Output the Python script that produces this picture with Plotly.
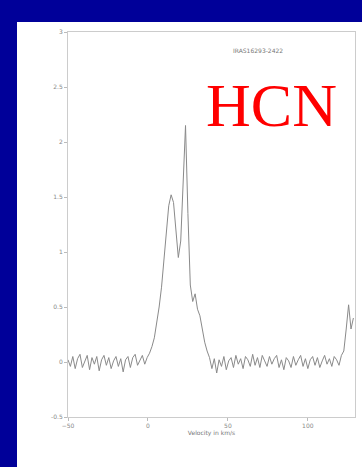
import plotly.graph_objects as go

# Spectrum header: first channel velocity and channel width (km/s)
v_start = -50.0
v_step = 1.5

# Antenna temperature per channel (K)
intensity = [
    0.02, -0.04, 0.05, -0.06, 0.03, 0.07, -0.05, 0.01, 0.06, -0.07,
    0.04, -0.02, 0.05, -0.08, 0.02, 0.06, -0.03, 0.04, -0.06, 0.01,
    0.05, -0.04, 0.03, -0.09, 0.02, 0.05, -0.05, 0.04, 0.07, -0.03,
    0.02, 0.06, -0.02, 0.04, 0.08, 0.14, 0.22, 0.35, 0.50, 0.68,
    0.92, 1.18, 1.42, 1.52, 1.45, 1.20, 0.95, 1.10, 1.70, 2.15,
    1.35, 0.70, 0.55, 0.62, 0.48, 0.42, 0.30, 0.18, 0.10, 0.04,
    -0.06, 0.03, -0.10, 0.02, -0.04, 0.05, -0.07, 0.01, 0.04, -0.05,
    0.06, -0.02, 0.03, -0.06, 0.05, 0.02, -0.04, 0.07, -0.03, 0.04,
    -0.05, 0.06, 0.01, -0.04, 0.05, -0.02, 0.03, 0.06, -0.05, 0.02,
    -0.07, 0.04, 0.01, -0.05, 0.05, -0.03, 0.02, 0.06, -0.04, 0.03,
    -0.06, 0.02, 0.05, -0.03, 0.04, -0.05, 0.01, 0.06, -0.02, 0.03,
    -0.04, 0.05, 0.02, -0.03, 0.06, 0.10, 0.30, 0.52, 0.30, 0.40,
]
velocity = [v_start + v_step * i for i in range(len(intensity))]

x_ticks = [-50, 0, 50, 100]
y_ticks = [-0.5, 0, 0.5, 1, 1.5, 2, 2.5, 3]
y_labels = ["-0.5", "0", "0.5", "1", "1.5", "2", "2.5", "3"]

fig = go.Figure()
fig.add_trace(go.Scatter(
    x=velocity, y=intensity, mode="lines",
    line=dict(color="#8a8a8a", width=1), hoverinfo="skip",
))

W, H = 362, 467
L, R, T, B = 68, 7, 32, 50
pw, ph = W - L - R, H - T - B

def px_x(x):
    return (x - L) / pw

def px_y(y):
    return (H - B - y) / ph

# White slide panel behind the plot
fig.add_shape(
    type="rect", xref="paper", yref="paper", layer="below",
    x0=px_x(17), x1=px_x(W + 5), y0=px_y(H + 5), y1=px_y(22),
    fillcolor="white", line=dict(width=0),
)

fig.add_annotation(
    text="HCN", xref="paper", yref="paper",
    x=px_x(271), y=px_y(105), xanchor="center", yanchor="middle",
    showarrow=False,
    font=dict(family="Liberation Serif", size=62, color="#ff0000"),
)
fig.add_annotation(
    text="IRAS16293-2422", xref="paper", yref="paper",
    x=px_x(258), y=px_y(50), xanchor="center", yanchor="middle",
    showarrow=False,
    font=dict(family="DejaVu Sans", size=6, color="#777777"),
)

axis_common = dict(
    showgrid=False, zeroline=False, showline=True, linecolor="#cccccc",
    linewidth=1, mirror=True, ticks="outside", ticklen=3, tickcolor="#bbbbbb",
    tickfont=dict(family="DejaVu Sans", size=6, color="#888888"),
)
fig.update_xaxes(
    range=[-50, 129.5], tickvals=x_ticks,
    title=dict(text="Velocity in km/s", standoff=2,
               font=dict(family="DejaVu Sans", size=6, color="#777777")),
    **axis_common,
)
fig.update_yaxes(
    range=[-0.5, 3], tickvals=y_ticks, ticktext=y_labels, **axis_common,
)

fig.update_layout(
    width=W, height=H, autosize=False,
    margin=dict(l=L, r=R, t=T, b=B, pad=0),
    paper_bgcolor="#000099", plot_bgcolor="white",
    showlegend=False,
)

fig.write_html("out.html", config={"displayModeBar": False})
